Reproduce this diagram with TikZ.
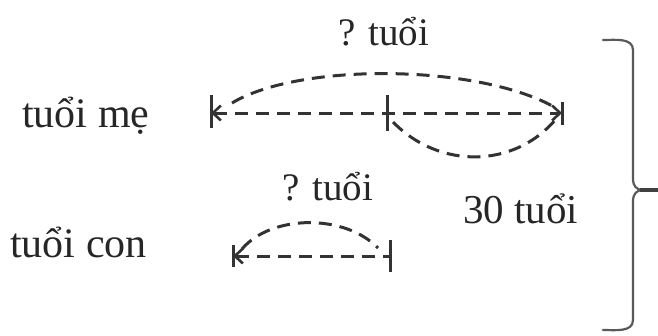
\documentclass[tikz,border=0pt]{standalone}
\usepackage{fontspec}
\setmainfont{Liberation Serif}
\usetikzlibrary{arrows.meta}
\begin{document}
\begin{tikzpicture}[x=1pt,y=-1pt,
  >={Straight Barb[length=8pt,width=15pt,line width=2.6pt]},
  lbl/.style={font=\fontsize{42}{50}\selectfont, inner sep=0pt, anchor=base west, text=black!85},
  qlbl/.style={lbl, font=\fontsize{39}{46}\selectfont},
  tlbl/.style={lbl, font=\fontsize{41}{48}\selectfont},
  dsh/.style={line width=3pt, dash pattern=on 13pt off 8pt, color=black!80},
  tickline/.style={line width=3pt, color=black!80},
  bracket/.style={line width=2.2pt, color=black!65, line cap=round},
  ]
\useasboundingbox (0,0) rectangle (658,335);

% labels
\node[lbl]  (lme)   at (22,127)  {tuổi mẹ};
\node[lbl]  (lcon)  at (10,257)  {tuổi con};
\node[qlbl] (qtop)  at (338,45)  {? tuổi};
\node[qlbl] (qcon)  at (282,200) {? tuổi};
\node[tlbl] (total) at (463,223) {30 tuổi};

% mother's segment
\coordinate (m1) at (211,113);
\coordinate (mm) at (387,113);
\coordinate (m2) at (562,113);
\draw[tickline] (211,95) -- (211,128);
\draw[tickline] (387,95) -- (387,131);
\draw[tickline] (562,102) -- (562,125);
\draw[dsh, <->] (m1) -- (m2);
\draw[dsh] (232,103) .. controls (300,62) and (480,64) .. (556,108);
\draw[dsh] (393,122) .. controls (440,170) and (515,168) .. (556,119);

% child's segment
\coordinate (c1) at (233,256);
\coordinate (c2) at (390,256);
\draw[tickline] (233,245) -- (233,267);
\draw[tickline] (390,240) -- (390,272);
\draw[dsh, <-] (c1) -- (c2);
\draw[dsh] (242,249) .. controls (272,214) and (345,214) .. (378,248);

% bracket on the right
\draw[bracket] (603,40) to[out=0,in=90] (633,50) -- (633,180) to[out=-90,in=180] (642,190);
\draw[bracket] (603,330) to[out=0,in=-90] (633,320) -- (633,200) to[out=90,in=180] (642,190);
\draw[line width=3.2pt, color=black!75] (640,190) -- (658,190);
\end{tikzpicture}
\end{document}
